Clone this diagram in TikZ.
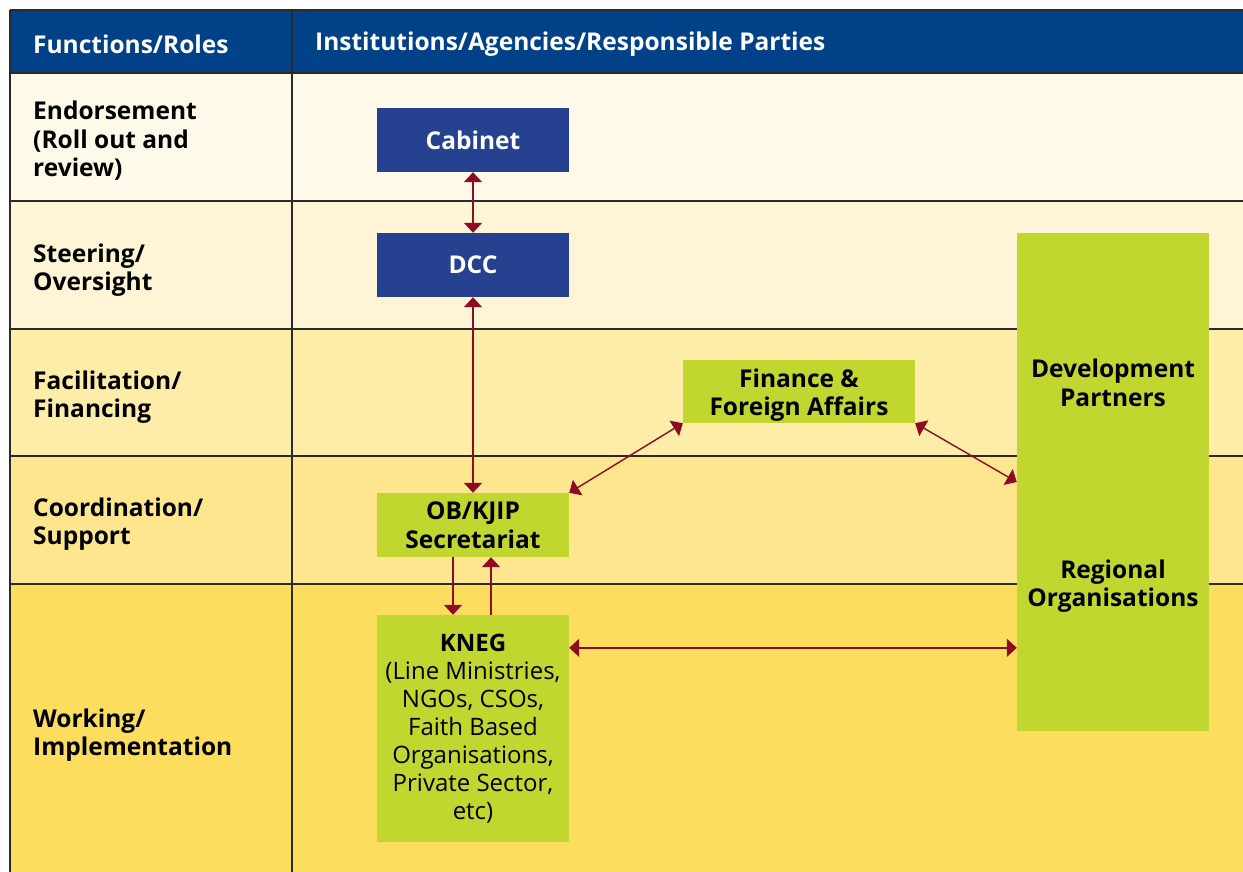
\documentclass[tikz,border=0pt]{standalone}
\usepackage{fontspec}
\setmainfont{Open Sans}
\usetikzlibrary{arrows.meta}
\definecolor{hdr}{HTML}{004187}
\definecolor{rowA}{HTML}{FEF9E8}
\definecolor{rowB}{HTML}{FDF5D5}
\definecolor{rowC}{HTML}{FEEDA8}
\definecolor{rowD}{HTML}{FDE68D}
\definecolor{rowE}{HTML}{FCDD5D}
\definecolor{bluebox}{HTML}{25418F}
\definecolor{greenbox}{HTML}{C1D72F}
\definecolor{arr}{HTML}{8E0B23}
\definecolor{grid}{HTML}{2A2A2A}
\tikzset{
  txt/.style={font=\fontsize{24.5}{28.5}\selectfont\bfseries},
  rolelabel/.style={txt, anchor=west, align=left, inner sep=0pt},
  headlabel/.style={txt, text=white, anchor=west, inner sep=0pt},
  bbox/.style={fill=bluebox, text=white, txt, minimum width=192pt, minimum height=64pt, inner sep=0pt, align=center},
  gbox/.style={fill=greenbox, txt, inner sep=0pt, align=center},
  link/.style={draw=arr, line width=1.4pt, arrows={Triangle[length=10pt,width=18pt]-Triangle[length=10pt,width=18pt]}},
  linkto/.style={draw=arr, line width=1.4pt, -{Triangle[length=10pt,width=18pt]}},
  gridline/.style={draw=grid, line width=1.3pt}
}
\begin{document}
\begin{tikzpicture}[x=1pt,y=-1pt]
\useasboundingbox (0,0) rectangle (1243,872);
\fill[white] (0,0) rectangle (1243,872);
% row backgrounds
\fill[hdr]  (10,10)  rectangle (1243,73);
\fill[rowA] (10,73)  rectangle (1243,201);
\fill[rowB] (10,201) rectangle (1243,329);
\fill[rowC] (10,329) rectangle (1243,456);
\fill[rowD] (10,456) rectangle (1243,584);
\fill[rowE] (10,584) rectangle (1243,872);
% grid
\foreach \yy in {10,73,201,329,456,584} \draw[gridline] (10,\yy) -- (1243,\yy);
\draw[gridline] (10,10) -- (10,872);
\draw[gridline] (292,10) -- (292,872);
% header
\node[headlabel] (h1) at (33,44) {Functions/Roles};
\node[headlabel] (h2) at (315,44) {Institutions/Agencies/Responsible Parties};
% role labels
\node[rolelabel] (r1) at (33,141) {Endorsement\\(Roll out and\\review)};
\node[rolelabel] (r2) at (33,270) {Steering/\\Oversight};
\node[rolelabel] (r3) at (33,397) {Facilitation/\\Financing};
\node[rolelabel] (r4) at (33,524) {Coordination/\\Support};
\node[rolelabel] (r5) at (33,735) {Working/\\Implementation};
% boxes
\node[bbox] (cab) at (473,140) {Cabinet};
\node[bbox] (dcc) at (473,265) {DCC};
\node[gbox, minimum width=232pt, minimum height=63pt] (fin) at (799,391.5) {};
\node[txt, align=center, inner sep=0pt] (fint) at (799,395) {Finance \&\\Foreign Affairs};
\node[gbox, minimum width=192pt, minimum height=64pt] (ob) at (473,525) {OB/KJIP\\Secretariat};
\node[gbox, minimum width=192pt, minimum height=227pt, font=\fontsize{24}{28}\selectfont] (kneg) at (473,728.5) {\textbf{KNEG}\\(Line Ministries,\\NGOs, CSOs,\\Faith Based\\Organisations,\\Private Sector,\\etc)};
\node[gbox, minimum width=192pt, minimum height=498pt] (dev) at (1113,482) {};
\node[txt, align=center, inner sep=0pt] (devp) at (1113,383) {Development\\Partners};
\node[txt, align=center, inner sep=0pt] (reg) at (1113,586) {Regional\\Organisations};
% connectors
\draw[link] (cab.south) -- (dcc.north);
\draw[link] (dcc.south) -- (ob.north);
\draw[link] (ob.north east) -- (fin.south west);
\draw[link] (fin.south east) -- (dev.west);
\draw[linkto] ([xshift=-20pt]ob.south) -- ([xshift=-20pt]kneg.north);
\draw[linkto] ([xshift=18pt]kneg.north) -- ([xshift=18pt]ob.south);
\draw[link] ([yshift=-33pt]kneg.north east) -- ([yshift=-33pt]kneg.north east -| dev.west);
\end{tikzpicture}
\end{document}
